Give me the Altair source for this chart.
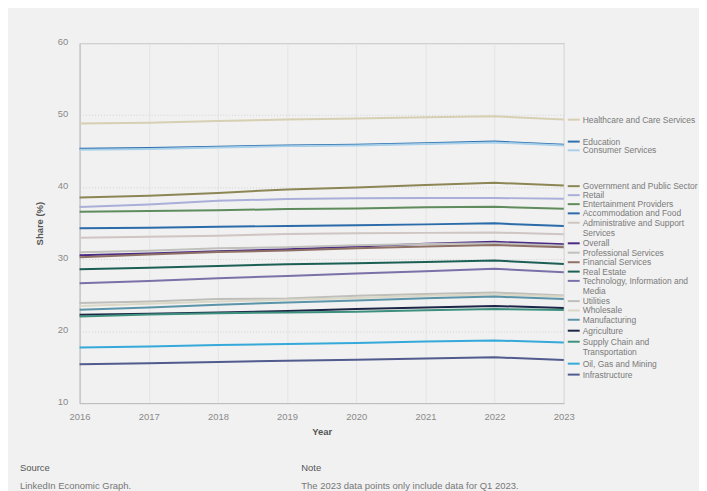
import altair as alt
import pandas as pd

years = [2016, 2017, 2018, 2019, 2020, 2021, 2022, 2023]

series = [
    "Healthcare and Care Services", "Education", "Consumer Services",
    "Government and Public Sector", "Retail", "Entertainment Providers",
    "Accommodation and Food", "Administrative and Support Services", "Overall",
    "Professional Services", "Financial Services", "Real Estate",
    "Technology, Information and Media", "Utilities", "Wholesale",
    "Manufacturing", "Agriculture", "Supply Chain and Transportation",
    "Oil, Gas and Mining", "Infrastructure",
]

colors = [
    "#d6cfb2", "#2d70ae", "#a9d0ea", "#8c8655", "#a9afd8", "#5f8c5d",
    "#2b6ba9", "#cfc5c2", "#4a2a85", "#c0c0bc", "#8f7065", "#1c5f55",
    "#7b70a8", "#bebeba", "#dad7c6", "#5b94a9", "#1e2647", "#3e907e",
    "#35a9d9", "#515b8d",
]

healthcare = [48.86, 48.96, 49.18, 49.40, 49.55, 49.72, 49.85, 49.40]
education = [45.35, 45.45, 45.63, 45.80, 45.90, 46.10, 46.33, 45.90]
consumer = [45.20, 45.30, 45.50, 45.70, 45.80, 46.00, 46.20, 45.80]
government = [38.57, 38.80, 39.20, 39.68, 39.95, 40.30, 40.60, 40.23]
retail = [37.23, 37.60, 38.10, 38.35, 38.45, 38.48, 38.50, 38.38]
entertainment = [36.58, 36.68, 36.80, 36.95, 37.05, 37.20, 37.27, 37.00]
accommodation = [34.28, 34.36, 34.50, 34.60, 34.70, 34.83, 34.97, 34.60]
administrative = [32.98, 33.10, 33.26, 33.50, 33.60, 33.65, 33.70, 33.45]
overall = [30.54, 30.80, 31.10, 31.37, 31.74, 32.15, 32.40, 32.06]
professional = [30.96, 31.18, 31.50, 31.65, 31.93, 32.10, 32.20, 31.87]
financial = [30.26, 30.63, 31.00, 31.20, 31.50, 31.75, 31.97, 31.65]
real_estate = [28.60, 28.80, 29.06, 29.30, 29.43, 29.60, 29.80, 29.33]
technology = [26.66, 26.98, 27.35, 27.67, 28.00, 28.33, 28.65, 28.18]
utilities = [23.90, 24.10, 24.45, 24.53, 24.90, 25.15, 25.36, 24.95]
wholesale = [23.50, 23.80, 24.10, 24.35, 24.60, 24.90, 25.10, 24.80]
manufacturing = [22.96, 23.28, 23.66, 23.97, 24.25, 24.58, 24.80, 24.45]
agriculture = [22.27, 22.40, 22.60, 22.78, 23.06, 23.28, 23.50, 23.20]
supply_chain = [22.03, 22.30, 22.50, 22.60, 22.70, 22.90, 23.06, 22.92]
oil_gas = [17.74, 17.88, 18.07, 18.20, 18.35, 18.55, 18.70, 18.43]
infrastructure = [15.39, 15.53, 15.72, 15.90, 16.04, 16.20, 16.36, 16.00]

values = [
    healthcare, education, consumer, government, retail, entertainment,
    accommodation, administrative, overall, professional, financial,
    real_estate, technology, utilities, wholesale, manufacturing,
    agriculture, supply_chain, oil_gas, infrastructure,
]

# legend labels placed at the right edge (first line / second line), with slot positions in data units
label_line1 = [
    "Healthcare and Care Services", "Education", "Consumer Services",
    "Government and Public Sector", "Retail", "Entertainment Providers",
    "Accommodation and Food", "Administrative and Support", "Overall",
    "Professional Services", "Financial Services", "Real Estate",
    "Technology, Information and", "Utilities", "Wholesale",
    "Manufacturing", "Agriculture", "Supply Chain and",
    "Oil, Gas and Mining", "Infrastructure",
]
label_line2 = [
    "", "", "", "", "", "", "", "Services", "", "", "", "",
    "Media", "", "", "", "", "Transportation", "", "",
]
label_pos = [
    49.38, 46.33, 45.12, 40.14, 38.89, 37.64, 36.36, 35.06, 32.20, 30.90,
    29.57, 28.27, 26.98, 24.17, 22.87, 21.58, 20.06, 18.53, 15.48, 13.96,
]

y_ticks = [10, 20, 30, 40, 50, 60]

notes_head = ["Source", "Note"]
notes_body = ["LinkedIn Economic Graph.", "The 2023 data points only include data for Q1 2023."]

FONT = "Liberation Sans"

rows = []
for name, vals in zip(series, values):
    for yr, v in zip(years, vals):
        rows.append({"series": name, "year": yr, "share": v})
df = pd.DataFrame(rows)

lab = pd.DataFrame({"series": series, "l1": label_line1, "l2": label_line2, "pos": label_pos})

color_scale = alt.Scale(domain=series, range=colors)

x_enc = alt.X(
    "year:Q",
    scale=alt.Scale(domain=[2016, 2023], nice=False, zero=False),
    axis=alt.Axis(
        values=years, format="d", title="Year", ticks=False, labelFlush=False,
        labelPadding=8, titlePadding=6, labelFontSize=9.5, titleFontSize=9.5,
        labelColor="#8a8a8a", titleColor="#555555", titleFontWeight="bold",
        domainColor="#bdbdbd", grid=True, gridColor="#e4e4e4", gridWidth=1,
        labelFont=FONT, titleFont=FONT,
    ),
)
y_enc = alt.Y(
    "share:Q",
    scale=alt.Scale(domain=[10, 60], nice=False, zero=False),
    axis=alt.Axis(
        values=y_ticks, title="Share (%)", ticks=False, labelFlush=False,
        labelPadding=12, titlePadding=13, labelFontSize=9.5, titleFontSize=9.5,
        labelColor="#8a8a8a", titleColor="#555555", titleFontWeight="bold",
        domainColor="#bdbdbd", grid=True, gridColor="#d2d2d2", gridDash=[1, 2],
        labelFont=FONT, titleFont=FONT, labelOffset=-2,
    ),
)

lines = alt.Chart(df).mark_line(strokeWidth=2).encode(
    x=x_enc,
    y=y_enc,
    color=alt.Color("series:N", scale=color_scale, legend=None),
    detail="series:N",
)

sym = alt.Chart(lab).mark_rule(strokeWidth=2).encode(
    x=alt.value(491), x2=alt.value(503),
    y=alt.Y("pos:Q"),
    color=alt.Color("series:N", scale=color_scale, legend=None),
)

txt1 = alt.Chart(lab).mark_text(
    align="left", baseline="middle", fontSize=8.5, color="#7a7a7a", font=FONT
).encode(x=alt.value(506), y=alt.Y("pos:Q"), text="l1:N")

txt2 = alt.Chart(lab).mark_text(
    align="left", baseline="middle", fontSize=8.5, color="#7a7a7a", font=FONT, dy=10
).encode(x=alt.value(506), y=alt.Y("pos:Q"), text="l2:N")

notes = pd.DataFrame({"head": notes_head, "body": notes_body, "col": [0, 1]})
head_txt = alt.Chart(notes).mark_text(
    align="left", baseline="middle", fontSize=9.5, color="#555555", font=FONT
).encode(
    x=alt.X("col:Q", scale=alt.Scale(domain=[0, 1], range=[-60, 223]), axis=None),
    y=alt.value(427), text="head:N",
)
body_txt = alt.Chart(notes).mark_text(
    align="left", baseline="middle", fontSize=9.5, color="#777777", font=FONT
).encode(
    x=alt.X("col:Q", scale=alt.Scale(domain=[0, 1], range=[-60, 223]), axis=None),
    y=alt.value(445), text="body:N",
)

main = alt.layer(lines, sym, txt1, txt2)
chart = alt.layer(main, head_txt, body_txt).resolve_scale(x="independent").properties(
    width=487, height=362,
    autosize=alt.AutoSizeParams(type="none"),
    padding={"left": 72, "top": 34, "right": 136, "bottom": 87},
    background="#f1f1f1",
).configure_view(stroke="#c8c8c8").configure_text(font=FONT)

chart.save("out.html", embed_options={"renderer": "svg", "actions": False})
